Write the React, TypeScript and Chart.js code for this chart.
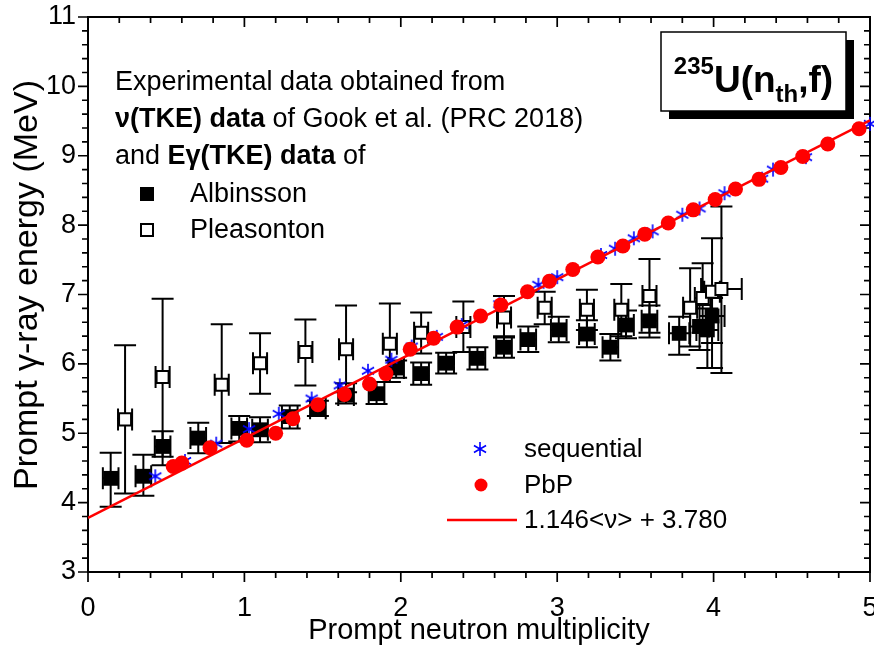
import React, { useEffect, useRef } from 'react';
import { Chart, registerables } from 'chart.js';

Chart.register(...registerables);

// ---------------- data ----------------
// Albinsson (filled squares)
const albX = [0.145, 0.354, 0.477, 0.705, 0.967, 1.10, 1.29, 1.47, 1.65, 1.845, 1.97, 2.13, 2.29, 2.49, 2.66, 2.815, 3.01, 3.19, 3.34, 3.44, 3.59, 3.78, 3.91, 3.96, 3.99];
const albY = [4.35, 4.38, 4.81, 4.93, 5.07, 5.05, 5.24, 5.36, 5.55, 5.57, 5.94, 5.86, 6.01, 6.08, 6.24, 6.35, 6.49, 6.43, 6.24, 6.56, 6.62, 6.44, 6.54, 6.49, 6.69];
const albYHi = [4.72, 4.69, 5.03, 5.15, 5.25, 5.23, 5.40, 5.47, 5.72, 5.74, 6.05, 6.02, 6.16, 6.24, 6.38, 6.54, 6.68, 6.63, 6.43, 6.77, 6.84, 6.68, 6.85, 6.80, 6.95];
const albYLo = [3.94, 4.10, 4.54, 4.71, 4.88, 4.87, 5.07, 5.25, 5.43, 5.42, 5.80, 5.70, 5.86, 5.92, 6.09, 6.17, 6.31, 6.24, 6.05, 6.37, 6.38, 6.13, 6.20, 5.94, 6.30];
const albXErr = [0.05, 0.05, 0.05, 0.05, 0.05, 0.05, 0.05, 0.05, 0.05, 0.05, 0.05, 0.05, 0.05, 0.05, 0.05, 0.05, 0.05, 0.05, 0.05, 0.05, 0.05, 0.065, 0.06, 0.07, 0.08];

// Pleasonton (open squares)
const pleX = [0.237, 0.477, 0.855, 1.10, 1.39, 1.65, 1.93, 2.13, 2.40, 2.66, 2.92, 3.19, 3.41, 3.59, 3.85, 3.93, 3.99, 4.05];
const pleY = [5.20, 5.81, 5.70, 6.01, 6.17, 6.21, 6.29, 6.45, 6.53, 6.67, 6.81, 6.78, 6.78, 6.98, 6.81, 6.95, 7.04, 7.08];
const pleYHi = [6.27, 6.94, 6.57, 6.44, 6.64, 6.84, 6.87, 6.74, 6.90, 6.98, 7.04, 7.07, 7.15, 7.51, 7.38, 7.45, 7.81, 8.27];
const pleYLo = [4.13, 4.66, 4.86, 5.57, 5.69, 5.59, 5.74, 6.15, 6.17, 6.40, 6.57, 6.49, 6.40, 6.45, 6.25, 6.45, 5.94, 5.87];
const pleXErr = [0.045, 0.045, 0.045, 0.045, 0.045, 0.045, 0.045, 0.045, 0.045, 0.045, 0.045, 0.045, 0.045, 0.045, 0.045, 0.05, 0.05, 0.13];

// sequential (blue asterisks)
const seqX = [0.43, 0.62, 0.82, 1.03, 1.22, 1.43, 1.61, 1.79, 1.94, 2.07, 2.23, 2.39, 2.63, 2.88, 3.00, 3.28, 3.37, 3.49, 3.61, 3.80, 3.91, 4.07, 4.31, 4.38, 4.59, 5.00];
const seqY = [4.38, 4.60, 4.85, 5.06, 5.28, 5.50, 5.69, 5.90, 6.06, 6.25, 6.39, 6.56, 6.86, 7.14, 7.25, 7.57, 7.66, 7.81, 7.91, 8.15, 8.24, 8.46, 8.67, 8.80, 8.98, 9.46];

// PbP (red circles)
const pbpX = [0.545, 0.60, 0.78, 1.015, 1.20, 1.31, 1.47, 1.64, 1.80, 1.905, 2.06, 2.21, 2.36, 2.51, 2.64, 2.81, 2.95, 3.10, 3.26, 3.42, 3.56, 3.71, 3.87, 4.01, 4.14, 4.29, 4.43, 4.57, 4.73, 4.93];
const pbpY = [4.52, 4.57, 4.79, 4.90, 5.00, 5.21, 5.41, 5.56, 5.71, 5.86, 6.21, 6.37, 6.53, 6.69, 6.85, 7.04, 7.19, 7.36, 7.54, 7.70, 7.87, 8.03, 8.22, 8.37, 8.52, 8.66, 8.83, 8.99, 9.17, 9.39];

// linear fit 1.146<v> + 3.780 (end points)
const fitX = [0, 5];
const fitY = [3.780, 9.510];

// axis ticks
const xMajor = [0, 1, 2, 3, 4, 5];
const yMajor = [3, 4, 5, 6, 7, 8, 9, 10, 11];
const minorStep = 0.2;

const FONT = "'Liberation Sans', Arial, Helvetica, sans-serif";

function pts(xs: number[], ys: number[]) {
  return xs.map((x, i) => ({ x, y: ys[i] }));
}

function makeAsterisk(r: number, color: string, lw: number) {
  const s = Math.ceil(2 * r + lw * 2 + 2);
  const c = document.createElement('canvas');
  c.width = s;
  c.height = s;
  const g = c.getContext('2d')!;
  g.strokeStyle = color;
  g.lineWidth = lw;
  g.translate(s / 2, s / 2);
  g.beginPath();
  for (let k = 0; k < 3; k++) {
    const a = Math.PI / 2 + (k * Math.PI) / 3;
    g.moveTo(Math.cos(a) * r, Math.sin(a) * r);
    g.lineTo(-Math.cos(a) * r, -Math.sin(a) * r);
  }
  g.stroke();
  return c;
}

function drawRich(ctx: CanvasRenderingContext2D, segs: { t: string; b?: boolean }[], x: number, y: number, size: number) {
  let cx = x;
  for (const s of segs) {
    ctx.font = `${s.b ? 'bold ' : ''}${size}px ${FONT}`;
    ctx.fillText(s.t, cx, y);
    cx += ctx.measureText(s.t).width;
  }
}

const decorPlugin = {
  id: 'decor',
  beforeDatasetsDraw(chart: any) {
    const { ctx, chartArea: a, scales } = chart;
    const xs = scales.x;
    const ys = scales.y;
    ctx.save();
    // frame
    ctx.strokeStyle = '#000';
    ctx.lineWidth = 2;
    ctx.strokeRect(a.left, a.top, a.right - a.left, a.bottom - a.top);
    // ticks
    ctx.lineWidth = 1.7;
    ctx.beginPath();
    const nx = Math.round((xs.max - xs.min) / minorStep);
    for (let i = 0; i <= nx; i++) {
      const v = xs.min + i * minorStep;
      const px = xs.getPixelForValue(v);
      const major = xMajor.some((m) => Math.abs(m - v) < 1e-6);
      const len = major ? 10 : 6;
      ctx.moveTo(px, a.bottom);
      ctx.lineTo(px, a.bottom + len);
      ctx.moveTo(px, a.top);
      ctx.lineTo(px, a.top + len);
    }
    const ny = Math.round((ys.max - ys.min) / minorStep);
    for (let i = 0; i <= ny; i++) {
      const v = ys.min + i * minorStep;
      const py = ys.getPixelForValue(v);
      const major = yMajor.some((m) => Math.abs(m - v) < 1e-6);
      const len = major ? 10 : 6;
      ctx.moveTo(a.left, py);
      ctx.lineTo(a.left - len, py);
      ctx.moveTo(a.right, py);
      ctx.lineTo(a.right - len, py);
    }
    ctx.stroke();

    // error bars
    ctx.beginPath();
    ctx.rect(a.left, a.top, a.right - a.left, a.bottom - a.top);
    ctx.clip();
    ctx.strokeStyle = '#000';
    ctx.lineWidth = 2;
    const drawErr = (X: number[], Y: number[], hi: number[], lo: number[], xe: number[], capW: number, capH: number) => {
      ctx.beginPath();
      for (let i = 0; i < X.length; i++) {
        const px = xs.getPixelForValue(X[i]);
        const py = ys.getPixelForValue(Y[i]);
        const pHi = ys.getPixelForValue(hi[i]);
        const pLo = ys.getPixelForValue(lo[i]);
        ctx.moveTo(px, pHi);
        ctx.lineTo(px, pLo);
        ctx.moveTo(px - capW / 2, pHi);
        ctx.lineTo(px + capW / 2, pHi);
        ctx.moveTo(px - capW / 2, pLo);
        ctx.lineTo(px + capW / 2, pLo);
        const pL = xs.getPixelForValue(X[i] - xe[i]);
        const pR = xs.getPixelForValue(X[i] + xe[i]);
        ctx.moveTo(pL, py);
        ctx.lineTo(pR, py);
        ctx.moveTo(pL, py - capH / 2);
        ctx.lineTo(pL, py + capH / 2);
        ctx.moveTo(pR, py - capH / 2);
        ctx.lineTo(pR, py + capH / 2);
      }
      ctx.stroke();
    };
    drawErr(albX, albY, albYHi, albYLo, albXErr, 22, 22);
    drawErr(pleX, pleY, pleYHi, pleYLo, pleXErr, 22, 22);
    ctx.restore();
  },
  afterDraw(chart: any) {
    const { ctx, chartArea: a } = chart;
    ctx.save();
    ctx.fillStyle = '#000';
    ctx.strokeStyle = '#000';
    ctx.textBaseline = 'middle';
    ctx.textAlign = 'left';

    // y-axis title
    ctx.save();
    ctx.translate(28, 285);
    ctx.rotate(-Math.PI / 2);
    ctx.textAlign = 'center';
    ctx.font = `34px ${FONT}`;
    ctx.fillText('Prompt γ-ray energy (MeV)', 0, 0);
    ctx.restore();

    // text block (top left)
    const tx = a.left + 27;
    const size = 27;
    drawRich(ctx, [{ t: 'Experimental data obtained from' }], tx, 83, size);
    drawRich(ctx, [{ t: 'ν(TKE) data', b: true }, { t: ' of Gook et al. (PRC 2018)' }], tx, 120, size);
    drawRich(ctx, [{ t: 'and ' }, { t: 'Eγ(TKE) data', b: true }, { t: ' of' }], tx, 157, size);
    ctx.fillRect(a.left + 52, 194 - 7, 14, 14);
    ctx.lineWidth = 2;
    ctx.strokeStyle = '#000';
    ctx.fillStyle = '#fff';
    ctx.fillRect(a.left + 53, 230 - 6, 12, 12);
    ctx.strokeRect(a.left + 53, 230 - 6, 12, 12);
    ctx.fillStyle = '#000';
    drawRich(ctx, [{ t: 'Albinsson' }], a.left + 102, 195, size);
    drawRich(ctx, [{ t: 'Pleasonton' }], a.left + 102, 231, size);

    // legend (bottom right)
    const lx = 480;
    const star = makeAsterisk(7, '#0000ff', 1.6);
    ctx.drawImage(star, lx - star.width / 2, 449 - star.height / 2);
    ctx.fillStyle = '#ff0000';
    ctx.beginPath();
    ctx.arc(lx + 1, 485, 6.5, 0, Math.PI * 2);
    ctx.fill();
    ctx.strokeStyle = '#ff0000';
    ctx.lineWidth = 2.5;
    ctx.beginPath();
    ctx.moveTo(447, 520);
    ctx.lineTo(517, 520);
    ctx.stroke();
    ctx.fillStyle = '#000';
    drawRich(ctx, [{ t: 'sequential' }], 524, 450, 26);
    drawRich(ctx, [{ t: 'PbP' }], 524, 486, 26);
    drawRich(ctx, [{ t: '1.146<ν> + 3.780' }], 524, 521, 26);

    // title box
    const bx = 661, by = 32, bw = 185, bh = 79;
    ctx.fillStyle = '#000';
    ctx.fillRect(bx + 8, by + 8, bw, bh);
    ctx.fillStyle = '#fff';
    ctx.fillRect(bx, by, bw, bh);
    ctx.strokeStyle = '#000';
    ctx.lineWidth = 1.5;
    ctx.strokeRect(bx, by, bw, bh);
    ctx.fillStyle = '#000';
    ctx.textBaseline = 'alphabetic';
    const big = `bold 37px ${FONT}`;
    const small = `bold 24px ${FONT}`;
    const parts = [
      { t: '235', f: small, dy: -18 },
      { t: 'U(n', f: big, dy: 0 },
      { t: 'th', f: small, dy: 10 },
      { t: ',f)', f: big, dy: 0 },
    ];
    let total = 0;
    for (const p of parts) {
      ctx.font = p.f;
      total += ctx.measureText(p.t).width;
    }
    let cx = bx + bw / 2 - total / 2;
    const base = 92;
    for (const p of parts) {
      ctx.font = p.f;
      ctx.fillText(p.t, cx, base + p.dy);
      cx += ctx.measureText(p.t).width;
    }
    ctx.restore();
  },
};

export default function App() {
  const ref = useRef<HTMLCanvasElement>(null);
  useEffect(() => {
    document.body.style.margin = '0';
    const star = makeAsterisk(7, '#0000ff', 1.6);
    const chart = new Chart(ref.current!, {
      type: 'scatter',
      data: {
        datasets: [
          {
            label: 'PbP',
            data: pts(pbpX, pbpY),
            pointStyle: 'circle',
            pointRadius: 7.5,
            backgroundColor: '#ff0000',
            borderWidth: 0,
            order: 0,
            clip: false,
          } as any,
          {
            label: 'fit',
            type: 'line',
            data: pts(fitX, fitY),
            borderColor: '#ff0000',
            borderWidth: 2.5,
            pointRadius: 0,
            fill: false,
            order: 1,
          } as any,
          {
            label: 'sequential',
            data: pts(seqX, seqY),
            pointStyle: star,
            pointRadius: 7,
            order: 2,
            clip: false,
          } as any,
          {
            label: 'Pleasonton',
            data: pts(pleX, pleY),
            pointStyle: 'rect',
            pointRadius: 8.5,
            backgroundColor: '#ffffff',
            borderColor: '#000000',
            borderWidth: 2,
            order: 3,
          } as any,
          {
            label: 'Albinsson',
            data: pts(albX, albY),
            pointStyle: 'rect',
            pointRadius: 10.5,
            backgroundColor: '#000000',
            borderColor: '#000000',
            borderWidth: 0,
            order: 4,
          } as any,
        ],
      },
      options: {
        responsive: false,
        animation: false,
        events: [],
        layout: { autoPadding: false, padding: { top: 17, right: 4, left: 0, bottom: 0 } },
        plugins: { legend: { display: false }, tooltip: { enabled: false } },
        scales: {
          x: {
            type: 'linear',
            min: 0,
            max: 5,
            grid: { display: false, drawTicks: false },
            border: { display: false },
            ticks: { stepSize: 1, font: { size: 27, family: FONT }, color: '#000', padding: 20, maxRotation: 0 },
            title: {
              display: true,
              text: 'Prompt neutron multiplicity',
              font: { size: 29, family: FONT },
              color: '#000',
              padding: { top: 0, bottom: 0 },
            },
            afterFit: (s: any) => {
              s.height = 76;
              s.paddingLeft = 0;
              s.paddingRight = 0;
            },
          },
          y: {
            type: 'linear',
            min: 3,
            max: 11,
            grid: { display: false, drawTicks: false },
            border: { display: false },
            ticks: { stepSize: 1, font: { size: 27, family: FONT }, color: '#000', padding: 12 },
            afterFit: (s: any) => {
              s.width = 88;
              s.paddingTop = 0;
              s.paddingBottom = 0;
            },
          },
        },
      } as any,
      plugins: [decorPlugin as any],
    });
    return () => chart.destroy();
  }, []);
  return (
    <div style={{ width: 874, height: 648 }}>
      <canvas ref={ref} width={874} height={648} style={{ display: 'block' }} />
    </div>
  );
}
